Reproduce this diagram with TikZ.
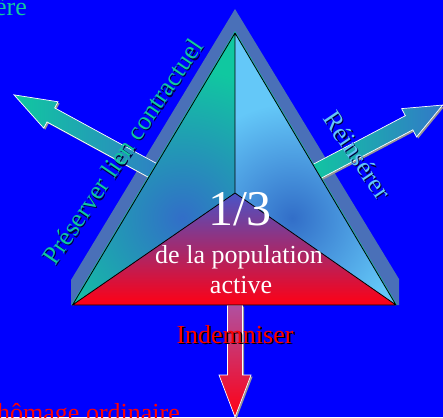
\documentclass[tikz,border=0pt]{standalone}
\usepackage{fontspec}
\setmainfont{Liberation Serif}
\definecolor{bgblue}{RGB}{0,0,255}
\definecolor{band}{RGB}{74,112,184}
\definecolor{tgreen}{RGB}{16,200,160}
\definecolor{tsky}{RGB}{100,200,248}
\definecolor{tdark}{RGB}{50,110,200}
\definecolor{tpurple}{RGB}{72,84,200}
\definecolor{tred}{RGB}{255,0,20}
\definecolor{ashadow}{RGB}{150,150,150}
\definecolor{amauve}{RGB}{176,80,160}
\definecolor{ablue}{RGB}{50,120,200}
\definecolor{tshadow}{RGB}{0,0,60}
% #1 x, #2 y, #3 angle, #4 length, #5 head length, #6 head half width, #7 shaft half width, #8 shading
\newcommand\blockarr[8]{%
  \begin{scope}[shift={(#1+1.6,#2+1.6)},rotate=#3]
    \fill[ashadow] (0,-#7) -- (#4-#5,-#7) -- (#4-#5,-#6) -- (#4,0) -- (#4-#5,#6) -- (#4-#5,#7) -- (0,#7) -- cycle;
  \end{scope}
  \begin{scope}[shift={(#1,#2)},rotate=#3]
    \shade[#8,draw=white,line width=0.7pt] (0,-#7) -- (#4-#5,-#7) -- (#4-#5,-#6) -- (#4,0) -- (#4-#5,#6) -- (#4-#5,#7) -- (0,#7) -- cycle;
  \end{scope}}
\begin{document}
\begin{tikzpicture}[x=1pt,y=-1pt,
  lbl/.style={font=\fontsize{26}{30}\selectfont,inner sep=0pt},
  big/.style={font=\fontsize{50}{56}\selectfont,inner sep=0pt}]
\useasboundingbox (0,0) rectangle (443,417);
\clip (0,0) rectangle (443,417);
\fill[bgblue] (0,0) rectangle (443,417);
% shadow band
\fill[band] (235,9) -- (399,279) -- (399,305) -- (71,305) -- (71,280) -- cycle;
% side arrows
\blockarr{172}{181}{151.4}{180}{42}{15}{8}{left color=tgreen,right color=ablue}
\blockarr{310}{175}{27.8}{150}{38}{16}{8}{left color=tgreen,right color=ablue}
% down arrow
\blockarr{235}{305}{-90}{112}{42}{16}{7.5}{top color=amauve,bottom color=tred}
% pyramid
\coordinate (A) at (235,33);
\coordinate (O) at (235,193);
\coordinate (L) at (72.5,305);
\coordinate (R) at (396,305);
\draw[tgreen,line width=2pt] (L) -- (A) -- (R);
\begin{scope}
  \clip (A) -- (O) -- (L) -- cycle;
  \fill[tgreen] (A) -- (O) -- (L) -- cycle;
  \shade[inner color=tdark,outer color=tgreen] (182,218) circle (150);
\end{scope}
\begin{scope}
  \clip (A) -- (O) -- (R) -- cycle;
  \fill[tsky] (A) -- (O) -- (R) -- cycle;
  \shade[inner color=tdark,outer color=tsky] (292,218) circle (115);
\end{scope}
\begin{scope}
  \clip (L) -- (O) -- (R) -- cycle;
  \shade[top color=tpurple,bottom color=tred] (60,193) rectangle (410,305);
\end{scope}
\draw[black,line width=0.8pt,line join=round] (A) -- (L) -- (R) -- cycle (A) -- (O) (L) -- (O) -- (R);
% texts
\node[big,white,anchor=base] (frac) at (240,225) {1/3};
\node[lbl,white,anchor=base] (pop) at (239,263) {de la population};
\node[lbl,white,anchor=base] (act) at (241,293) {active};
\node[lbl,black,anchor=base] (indS) at (236.5,344.5) {Indemniser};
\node[lbl,red,anchor=base] (ind) at (235,343) {Indemniser};
\node[lbl,tshadow,anchor=base,rotate=56] (presS) at (131.2,157.7) {Préserver lien contractuel};
\node[lbl,tgreen,anchor=base,rotate=56] (pres) at (130,156.5) {Préserver lien contractuel};
\node[lbl,tshadow,anchor=base,rotate=-56] (reinS) at (351.2,161.2) {Réinsérer};
\node[lbl,tsky,anchor=base,rotate=-56] (rein) at (350,160) {Réinsérer};
\node[lbl,tgreen,anchor=base east] (ere) at (27,16) {ère};
\node[lbl,red,anchor=base west] (cho) at (-3,421) {hômage ordinaire};
\end{tikzpicture}
\end{document}
